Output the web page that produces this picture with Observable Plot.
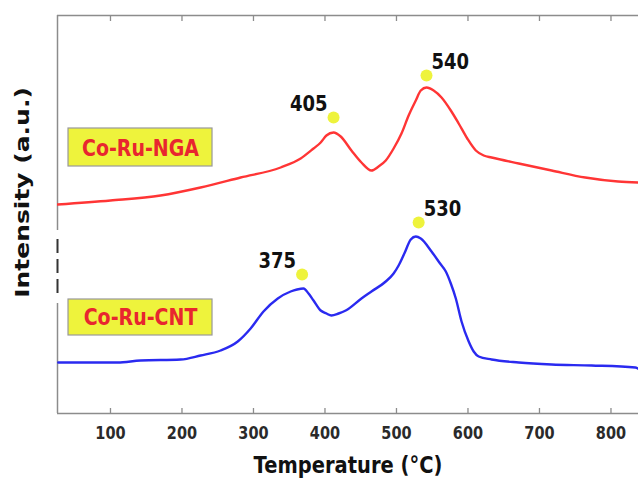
<!DOCTYPE html>
<html><head><meta charset="utf-8">
<script src="https://cdn.jsdelivr.net/npm/d3@7"></script>
<script src="https://cdn.jsdelivr.net/npm/@observablehq/plot@0.6"></script>
<style>body{margin:0;background:#fff}#chart{width:638px;height:478px}</style>
</head><body><div id="chart"></div>
<script>
// Temperature (°C) and intensity (a.u.)
const ngaT = [26, 100, 170, 226, 282, 338, 366, 384, 394, 402, 412, 422, 437, 451, 465, 475, 485, 496, 507, 517, 527, 534, 542, 552, 563, 576, 587, 599, 611, 622, 633, 671, 717, 764, 810, 839];
const ngaI = [209, 213, 218, 226, 236, 246, 255, 265, 271, 278, 281, 277, 263, 251, 243, 247, 253, 265, 280, 298, 313, 323, 326, 323, 316, 303, 290, 275, 263, 258, 256, 250, 243, 236, 232, 231];
const cntT = [27, 110, 142, 198, 226, 254, 278, 296, 314, 334, 352, 361, 370, 377, 384, 394, 402, 409, 419, 429, 451, 465, 485, 496, 503, 511, 520, 527, 534, 549, 561, 569, 576, 583, 591, 601, 608, 615, 633, 671, 717, 773, 834, 840];
const cntI = [51, 51, 53, 54, 58, 63, 72, 85, 102, 115, 122, 124, 125, 120, 113, 103, 100, 98, 100, 103, 115, 122, 132, 140, 148, 160, 174, 177, 175, 162, 150, 142, 130, 115, 92, 72, 62, 57, 54, 51, 49, 48, 46, 44];
const seriesNames = ["Co-Ru-NGA", "Co-Ru-CNT"];
const ngaPeakLabels = ["405", "540"];
const ngaPeakT = [412, 542];
const ngaPeakI = [296, 338];
const cntPeakLabels = ["375", "530"];
const cntPeakT = [368, 531];
const cntPeakI = [139, 191];
const xTicks = [100, 200, 300, 400, 500, 600, 700, 800];
const xTitle = "Temperature (°C)";
const yTitle = "Intensity (a.u.)";

const RED = "#ff3535", BLUE = "#2a2af0", YEL = "#eef33c", GRAY = "#8c8c8c";
const X0 = 25.9, X1 = 838.5, YMAX = 398;
const zipS = (T, I) => T.map((t, i) => ({t, v: I[i]}));
const peaks = (L, T, I) => L.map((l, i) => ({l, t: T[i], v: I[i], left: i === 0}));
const nga = zipS(ngaT, ngaI), cnt = zipS(cntT, cntI);
const allPeaks = peaks(ngaPeakLabels, ngaPeakT, ngaPeakI).concat(peaks(cntPeakLabels, cntPeakT, cntPeakI));
const leftPeaks = allPeaks.filter(d => d.left), rightPeaks = allPeaks.filter(d => !d.left);
// legend box placement (annotation)
const boxes = [
  {name: seriesNames[0], x1: 41.3, x2: 242.7, y1: 247, y2: 285, cy: 265},
  {name: seriesNames[1], x1: 41.3, x2: 242.7, y1: 78, y2: 114, cy: 96}
];
const peakText = {x: "t", y: "v", text: "l", dy: -13, fontSize: 18, fontWeight: "bold", fill: "#111"};

const chart = Plot.plot({
  width: 638, height: 478,
  marginLeft: 57, marginRight: 0, marginTop: 15, marginBottom: 65,
  x: {domain: [X0, X1], axis: null},
  y: {domain: [0, YMAX], axis: null},
  style: {fontFamily: "DejaVu Sans", background: "#fff"},
  marks: [
    // frame
    Plot.ruleY([0, YMAX], {stroke: GRAY, strokeWidth: 1.5}),
    Plot.ruleX([X0], {y1: YMAX, y2: 183, stroke: GRAY, strokeWidth: 1.5}),
    Plot.ruleX([X0], {y1: 174, y2: 116, stroke: "#333", strokeWidth: 2, strokeDasharray: "14,6"}),
    Plot.ruleX([X0], {y1: 110, y2: 0, stroke: GRAY, strokeWidth: 1.5}),
    Plot.ruleX(xTicks, {x: d => d, y1: YMAX, y2: YMAX - 6, stroke: GRAY, strokeWidth: 1.3}),
    Plot.ruleX(xTicks, {x: d => d, y1: 0, y2: 5, stroke: GRAY, strokeWidth: 1.3}),
    Plot.text(xTicks, {x: d => d, y: 0, dy: 20, text: d => String(d), fontSize: 14.5, fontWeight: "bold", fill: "#2a2a2a"}),
    Plot.text([xTitle], {frameAnchor: "bottom", dy: 59, text: d => d, fontSize: 19.5, fontWeight: "bold", fill: "#111"}),
    Plot.text([yTitle], {frameAnchor: "left", dx: -35, dy: -22, rotate: -90, textAnchor: "middle", text: d => d, fontSize: 20, fontWeight: "bold", fill: "#111"}),
    // curves
    Plot.line(nga, {x: "t", y: "v", stroke: RED, strokeWidth: 2.4, curve: "monotone-x", clip: true}),
    Plot.line(cnt, {x: "t", y: "v", stroke: BLUE, strokeWidth: 2.4, curve: "monotone-x", clip: true}),
    // peak markers
    Plot.dot(allPeaks, {x: "t", y: "v", r: 6, fill: YEL, stroke: "none"}),
    Plot.text(leftPeaks, {...peakText, dx: -6, textAnchor: "end"}),
    Plot.text(rightPeaks, {...peakText, dx: 5, textAnchor: "start"}),
    // legend boxes
    Plot.rect(boxes, {x1: "x1", x2: "x2", y1: "y1", y2: "y2", fill: YEL, stroke: "#999", strokeWidth: 1.2}),
    Plot.text(boxes, {x: d => (d.x1 + d.x2) / 2, y: "cy", text: "name", fontSize: 19, fontWeight: "bold", fill: "#e8262f"})
  ]
});
document.getElementById("chart").appendChild(chart);

// the reference's lettering is vertically stretched; mimic it (scale about each text's anchor)
const S = 1.18, SR = 1.25;
chart.querySelectorAll("text").forEach(el => {
  const t = el.getAttribute("transform") || "";
  const sc = /rotate/.test(t) ? `scale(${SR},1)` : `scale(1,${S})`;
  el.setAttribute("transform", `${t} ${sc}`);
});
</script></body></html>
